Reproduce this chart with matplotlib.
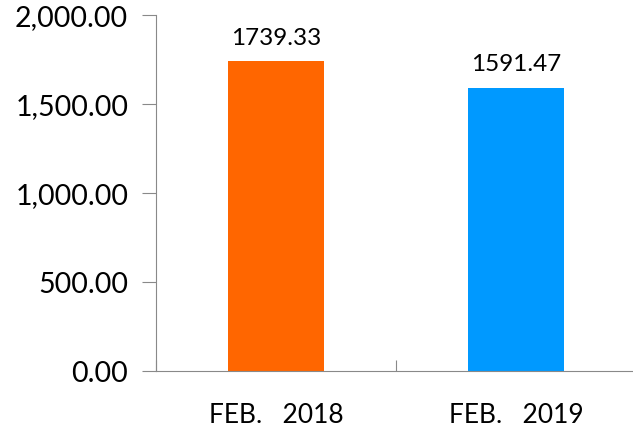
import matplotlib
matplotlib.use("Agg")
import matplotlib.pyplot as plt
from matplotlib.ticker import FuncFormatter, FixedLocator

# ── Data ──────────────────────────────────────────────────────────────────────
categories = ["FEB.   2018", "FEB.   2019"]
values = [1739.33, 1591.47]
bar_colors = ["#FF6600", "#0099FF"]
y_ticks = [0, 500, 1000, 1500, 2000]

plt.rcParams["font.family"] = ["Lato", "DejaVu Sans"]

fig = plt.figure(figsize=(6.33, 4.27), dpi=100)
ax = fig.add_axes([156 / 633, 1 - 372 / 427, 480 / 633, (372 - 16) / 427])

x = range(len(categories))
ax.bar(x, values, width=0.4, color=bar_colors, zorder=2)

for xi, v in zip(x, values):
    ax.text(xi, v + 75, f"{v:.2f}", ha="center", va="bottom", fontsize=17.5)

ax.set_xlim(-0.5, len(categories) - 0.5)
ax.set_ylim(0, 2000)
ax.set_yticks(y_ticks)
ax.yaxis.set_major_formatter(FuncFormatter(lambda v, p: f"{v:,.2f}"))

# category labels in the middle, tick marks on the boundaries
ax.xaxis.set_major_locator(FixedLocator([i - 0.5 for i in range(len(categories) + 1)]))
ax.xaxis.set_minor_locator(FixedLocator(list(x)))
ax.set_xticklabels([])
ax.set_xticklabels(categories, minor=True)
ax.tick_params(axis="x", which="major", direction="in", length=8, color="#898989")
ax.tick_params(axis="x", which="minor", length=0, labelsize=19, pad=22)
ax.tick_params(axis="y", direction="out", length=10, color="#898989", labelsize=20.5, pad=10)

for side in ["top", "right"]:
    ax.spines[side].set_visible(False)
for side in ["left", "bottom"]:
    ax.spines[side].set_color("#898989")

fig.savefig("out.png", dpi=100)
